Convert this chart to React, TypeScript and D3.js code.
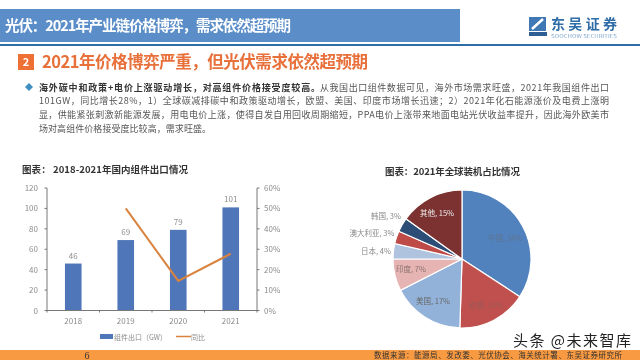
import React from "react";
import * as d3 from "d3";

const years = ["2018", "2019", "2020", "2021"];
const exportsGW = [46, 69, 79, 101];
const yoy: (number | null)[] = [null, 50, 14.5, 27.8];
const leftTicks = [0, 20, 40, 60, 80, 100, 120];
const rightTicks = [0, 10, 20, 30, 40, 50, 60];

const pieNames = ["中国", "欧盟", "美国", "印度", "日本", "澳大利亚", "韩国", "其他"];
const pieLabels = [34, 16, 17, 7, 4, 3, 3, 15];
const pieValues = [34.2, 16.3, 17, 7.5, 3.6, 3, 3.3, 15.1];
const pieColors = ["#5182BE", "#C0504D", "#93B2D9", "#E6B4B3", "#AFC3DF", "#BE4B48", "#2C4D75", "#7B3230"];
const pieLabelPos: [number, number, string][] = [
  [505, 241, "#5f7590"], [486, 308, "#9a5a58"], [433, 304, "#666"], [411, 272, "#8a7070"],
  [376, 254, "#888"], [372, 236, "#888"], [386, 219, "#888"], [437, 216, "#eee"],
];

const font = "'Noto Sans CJK SC', 'Noto Sans', sans-serif";

export default function App() {
  const x = d3.scaleBand().domain(years).range([47, 257]);
  const yL = d3.scaleLinear().domain([0, 120]).range([310.5, 188]);
  const yR = d3.scaleLinear().domain([0, 60]).range([310.5, 188]);
  const cx = (y: string) => (x(y) as number) + x.bandwidth() / 2;
  const line = d3
    .line<[string, number]>()
    .x((d) => cx(d[0]))
    .y((d) => yR(d[1]));
  const linePts = years
    .map((y, i) => [y, yoy[i]] as [string, number | null])
    .filter((d) => d[1] !== null) as [string, number][];

  const pie = d3.pie<number>().sort(null)(pieValues);
  const arc = d3.arc<d3.PieArcDatum<number>>().innerRadius(0).outerRadius(69);

  const grey = "#8c8c8c";
  return (
    <svg
      width={640}
      height={360}
      style={{ position: "fixed", left: 0, top: 0, background: "#fff", fontFamily: font, filter: "blur(0.35px)" }}
    >
      {/* header */}
      <rect x={0} y={9} width={460} height={33} fill="#5B8EC8" />
      <rect x={0} y={44} width={640} height={2} fill="#2F6DA8" />
      <text x={5} y={31} fontSize={14.5} fontWeight={700} fill="#fff" textLength={286} lengthAdjust="spacing">
        光伏：2021年产业链价格博弈，需求依然超预期
      </text>

      {/* logo */}
      <rect x={529} y={17} width={17} height={14} fill="#3F78B5" />
      <path d="M532 29 L543 19" stroke="#fff" strokeWidth={2.5} />
      <rect x={529} y={32} width={18} height={4} fill="#2F5E95" />
      <text x={551} y={28.5} fontSize={14} fontWeight={700} fill="#2F6DA8" textLength={66} lengthAdjust="spacing">
        东吴证券
      </text>
      <text x={551} y={37.5} fontSize={4.5} fill="#7FA6CF" textLength={66} lengthAdjust="spacingAndGlyphs">
        SOOCHOW SECURITIES
      </text>

      {/* section heading */}
      <rect x={18} y={54} width={16} height={16} fill="#EE7034" />
      <text x={26} y={66} fontSize={11} fontWeight={700} fill="#fff" textAnchor="middle">
        2
      </text>
      <text x={42} y={68} fontSize={16.5} fontWeight={700} fill="#E8703A" textLength={326} lengthAdjust="spacing">
        2021年价格博弈严重，但光伏需求依然超预期
      </text>

      {/* body */}
      <path d="M29 83 L33 87 L29 91 L25 87 Z" fill="#3F8FC0" />
      <text x={39} y={91} fontSize={9} fontWeight={700} fill="#333" textLength={281} lengthAdjust="spacing">
        海外碳中和政策+电价上涨驱动增长，对高组件价格接受度较高。
      </text>
      <text x={320} y={91} fontSize={9} fill="#555" textLength={289} lengthAdjust="spacing">
        从我国出口组件数据可见，海外市场需求旺盛，2021年我国组件出口
      </text>
      <text x={39} y={104} fontSize={9} fill="#555" textLength={570} lengthAdjust="spacing">
        101GW，同比增长28%，1）全球碳减排碳中和政策驱动增长，欧盟、美国、印度市场增长迅速；2）2021年化石能源涨价及电费上涨明
      </text>
      <text x={39} y={118} fontSize={9} fill="#555" textLength={570} lengthAdjust="spacing">
        显，供能紧张刺激新能源发展，用电电价上涨，使得自发自用回收周期缩短，PPA电价上涨带来地面电站光伏收益率提升，因此海外欧美市
      </text>
      <text x={39} y={132} fontSize={9} fill="#555" textLength={172} lengthAdjust="spacing">
        场对高组件价格接受度比较高，需求旺盛。
      </text>

      {/* bar chart */}
      <text x={22} y={173} fontSize={9.5} fontWeight={700} fill="#333" textLength={166} lengthAdjust="spacing">
        图表： 2018-2021年国内组件出口情况
      </text>
      {years.map((y, i) => (
        <g key={y}>
          <rect
            x={cx(y) - 8.3}
            y={yL(exportsGW[i])}
            width={16.6}
            height={yL(0) - yL(exportsGW[i])}
            fill="#4F76B8"
          />
          <text x={cx(y)} y={yL(exportsGW[i]) - 5} fontSize={8} fill={grey} textAnchor="middle">
            {exportsGW[i]}
          </text>
          <text x={cx(y)} y={324} fontSize={8} fill={grey} textAnchor="middle">
            {y}
          </text>
        </g>
      ))}
      <path d={line(linePts) as string} fill="none" stroke="#D9833F" strokeWidth={2} />
      <line x1={47} x2={47} y1={yL(120)} y2={yL(0)} stroke="#777" />
      <line x1={257} x2={257} y1={yL(120)} y2={yL(0)} stroke="#777" />
      <line x1={47} x2={257} y1={yL(0)} y2={yL(0)} stroke="#777" />
      {x.domain().map((y) => (
        <line key={y} x1={x(y)} x2={x(y)} y1={yL(0)} y2={yL(0) + 2} stroke="#777" />
      ))}
      <line x1={257} x2={257} y1={yL(0)} y2={yL(0) + 2} stroke="#777" />
      {leftTicks.map((t) => (
        <g key={t}>
          <line x1={44.5} x2={47} y1={yL(t)} y2={yL(t)} stroke="#777" />
          <text x={38} y={yL(t) + 3} fontSize={8} fill={grey} textAnchor="end">
            {t}
          </text>
        </g>
      ))}
      {rightTicks.map((t) => (
        <g key={t}>
          <line x1={257} x2={259.5} y1={yR(t)} y2={yR(t)} stroke="#777" />
          <text x={264} y={yR(t) + 3} fontSize={8} fill={grey}>
            {t}%
          </text>
        </g>
      ))}
      <rect x={100} y={334} width={13} height={5} fill="#4F76B8" />
      <text x={114} y={339.5} fontSize={7} fill={grey}>
        组件出口（GW）
      </text>
      <line x1={176} x2={191} y1={336.5} y2={336.5} stroke="#D9833F" strokeWidth={1.5} />
      <text x={191} y={339.5} fontSize={7} fill={grey}>
        同比
      </text>

      {/* pie */}
      <text x={385} y={175} fontSize={9.5} fontWeight={700} fill="#333" textLength={135} lengthAdjust="spacing">
        图表：2021年全球装机占比情况
      </text>
      <g transform="translate(462,259)">
        {pie.map((d, i) => (
          <path key={pieNames[i]} d={arc(d) as string} fill={pieColors[i]} stroke="#fff" strokeWidth={1.2} />
        ))}
      </g>
      {pieNames.map((n, i) => (
        <text
          key={n}
          x={pieLabelPos[i][0]}
          y={pieLabelPos[i][1]}
          fontSize={7.5}
          fill={pieLabelPos[i][2]}
          textAnchor="middle"
        >
          {n}, {pieLabels[i]}%
        </text>
      ))}

      {/* footer */}
      <rect x={0} y={350} width={640} height={10} fill="#F79A42" />
      <text x={87} y={359} fontSize={10} fill="#333" fontFamily="'Liberation Serif', serif" textAnchor="middle">
        6
      </text>
      <text x={374} y={358} fontSize={7.5} fill="#333" textLength={248} lengthAdjust="spacing">
        数据来源：能源局、发改委、光伏协会、海关统计署、东吴证券研究所
      </text>
      <text x={513} y={346} fontSize={15} fill="#222" stroke="#fff" strokeWidth={2.5} paintOrder="stroke" textLength={118} lengthAdjust="spacing">
        头条 @未来智库
      </text>
    </svg>
  );
}
